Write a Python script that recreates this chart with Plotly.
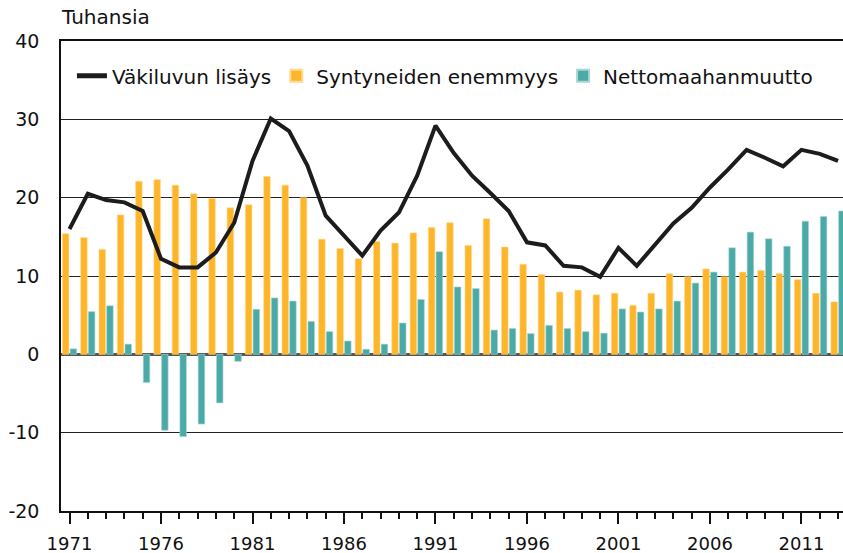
import plotly.graph_objects as go

years = list(range(1971, 2014))

vakiluvun_lisays = [16.0, 20.5, 19.7, 19.4, 18.3, 12.2, 11.1, 11.1, 13.0, 16.8,
                    24.7, 30.1, 28.5, 24.1, 17.7, 15.2, 12.6, 15.8, 18.1, 22.8,
                    29.2, 25.7, 22.8, 20.6, 18.3, 14.3, 13.9, 11.3, 11.1, 9.9,
                    13.6, 11.3, 14.0, 16.7, 18.7, 21.3, 23.6, 26.1, 25.1, 24.0,
                    26.1, 25.6, 24.7]

syntyneiden_enemmyys = [15.4, 14.9, 13.4, 17.8, 22.1, 22.3, 21.6, 20.5, 19.9, 18.7,
                        19.1, 22.7, 21.6, 20.0, 14.7, 13.5, 12.2, 14.4, 14.2, 15.5,
                        16.2, 16.8, 13.9, 17.3, 13.7, 11.5, 10.2, 7.95, 8.2, 7.6,
                        7.8, 6.25, 7.8, 10.3, 9.9, 10.9, 9.9, 10.5, 10.7, 10.3,
                        9.55, 7.8, 6.7]

nettomaahanmuutto = [0.7, 5.45, 6.2, 1.3, -3.6, -9.7, -10.5, -8.9, -6.2, -0.9,
                     5.75, 7.2, 6.8, 4.2, 2.9, 1.7, 0.65, 1.3, 4.0, 7.0,
                     13.1, 8.6, 8.4, 3.1, 3.3, 2.65, 3.7, 3.3, 2.9, 2.7,
                     5.8, 5.4, 5.8, 6.8, 9.1, 10.5, 13.6, 15.6, 14.75, 13.8,
                     17.0, 17.6, 18.3]

y_ticks = [-20, -10, 0, 10, 20, 30, 40]
y_tick_labels = ["-20", "-10", "0", "10", "20", "30", "40"]
x_tick_labels = [1971, 1976, 1981, 1986, 1991, 1996, 2001, 2006, 2011]

FONT = "DejaVu Sans"
ORANGE = "#FDB629"
TEAL = "#4BA9A8"

fig = go.Figure()
fig.add_trace(go.Scatter(
    x=years, y=vakiluvun_lisays, name="Väkiluvun lisäys", mode="lines",
    line=dict(color="#1c1c1c", width=4),
))
fig.add_trace(go.Bar(
    x=years, y=syntyneiden_enemmyys, name="Syntyneiden enemmyys",
    marker=dict(color=ORANGE, line=dict(color="#FFD98E", width=0.6)),
))
fig.add_trace(go.Bar(
    x=years, y=nettomaahanmuutto, name="Nettomaahanmuutto",
    marker=dict(color=TEAL, line=dict(color="#A6D6D5", width=0.6)),
))

fig.update_layout(
    width=843, height=553,
    margin=dict(l=61, r=0, t=41, b=42, autoexpand=False),
    paper_bgcolor="white", plot_bgcolor="white",
    font=dict(family=FONT, size=20, color="#111111"),
    barmode="group", bargap=0.16, bargroupgap=0.15,
    showlegend=True,
    legend=dict(
        orientation="h", x=0.014, y=0.926, xanchor="left", yanchor="middle",
        bgcolor="rgba(0,0,0,0)", font=dict(family=FONT, size=20, color="#111111"),
        traceorder="normal", itemsizing="constant",
    ),
    annotations=[dict(
        text="Tuhansia", xref="paper", yref="paper", x=0, y=1,
        xanchor="left", yanchor="middle", yshift=24, xshift=-2, showarrow=False,
        font=dict(family=FONT, size=20, color="#111111"),
    )],
)

fig.update_xaxes(
    automargin=False,
    range=[1970.535, 2013.27],
    tickmode="array", tickvals=x_tick_labels, ticktext=[str(v) for v in x_tick_labels],
    ticks="outside", ticklen=11, tickwidth=1.5, tickcolor="#111111",
    ticklabelstandoff=5,
    minor=dict(tickmode="linear", tick0=1971, dtick=1, ticks="outside", ticklen=6,
               tickwidth=1.5, tickcolor="#111111", showgrid=False),
    showline=True, linecolor="#111111", linewidth=1.5, mirror=True,
    showgrid=False, zeroline=False,
    tickfont=dict(family=FONT, size=18, color="#111111"),
)
fig.update_yaxes(
    automargin=False,
    range=[-20, 40], tickmode="array", tickvals=y_ticks, ticktext=y_tick_labels,
    ticks="outside", ticklen=16, tickcolor="rgba(0,0,0,0)",
    showline=True, linecolor="#111111", linewidth=1.5,
    showgrid=True, gridcolor="#222222", gridwidth=1,
    zeroline=True, zerolinecolor="#555555", zerolinewidth=2.5,
    tickfont=dict(family=FONT, size=19, color="#111111"),
)

fig.write_html(
    "out.html",
    config={"displayModeBar": False},
    post_script="document.body.style.margin='0';document.body.style.overflow='hidden';",
)
